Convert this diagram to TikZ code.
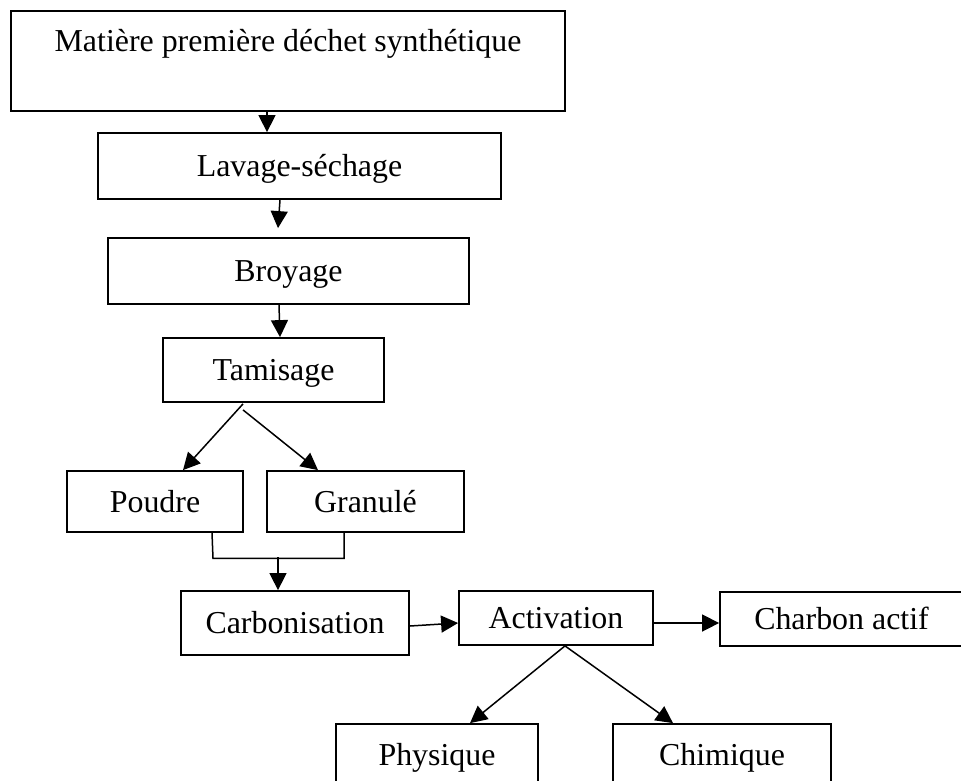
\documentclass[tikz,border=0pt]{standalone}
\usepackage{fontspec}
\setmainfont{Liberation Serif}
\usetikzlibrary{arrows.meta,calc}
\begin{document}
\begin{tikzpicture}[x=1pt,y=-1pt,
  box/.style={draw, line width=1.8pt, inner sep=0pt, text height=21pt, text depth=0pt,
    font=\fontsize{31.9}{38}\selectfont},
  arr/.style={line width=1.5pt, -{Triangle[length=17pt,width=17pt]}},
  ln/.style={line width=1.5pt}]
\fill[white] (0,0) rectangle (961,780);
\useasboundingbox (0,0) rectangle (961,780);
% nodes
\node[box, anchor=north, minimum width=554pt, text height=41pt, text depth=59pt] (m) at (288,10) {Matière première déchet synthétique};
\node[box, minimum width=403pt, minimum height=66pt] (lav) at (299.5,166) {Lavage-séchage};
\node[box, minimum width=361pt, minimum height=66pt] (broy) at (288.5,271) {Broyage};
\node[box, minimum width=221pt, minimum height=64pt] (tam) at (273.5,370) {Tamisage};
\node[box, minimum width=176pt, minimum height=61pt] (poud) at (155,501.5) {Poudre};
\node[box, minimum width=197pt, minimum height=61pt] (gran) at (365.5,501.5) {Granulé};
\node[box, minimum width=228pt, minimum height=64pt] (carb) at (295,623) {Carbonisation};
\node[box, minimum width=194pt, minimum height=54pt] (act) at (556,618) {Activation};
\node[box, minimum width=243pt, minimum height=54pt] (charb) at (841.5,619) {Charbon actif};
\node[box, minimum width=202pt, minimum height=62pt] (phys) at (437,755) {Physique};
\node[box, minimum width=218pt, minimum height=62pt] (chim) at (722,755) {Chimique};
\coordinate (j) at (278,557);
% connectors
\draw[arr] ($(m.south)+(-21,0)$) -- ($(lav.north)+(-32.5,0)$);
\draw[arr] ($(lav.south)+(-19.5,0)$) -- ($(broy.north)+(-10.5,-9)$);
\draw[arr] ($(broy.south)+(-9.5,0)$) -- ($(tam.north)+(6.5,0)$);
\draw[arr] ($(tam.south)+(-30.5,1)$) -- ($(poud.north)+(28,0)$);
\draw[arr] ($(tam.south)+(-30.5,7)$) -- ($(gran.north)+(-47.5,0)$);
\draw[ln] ($(poud.south)+(57,0)$) -- ($(poud.south)+(58,25.5)$) -- ($(gran.south)+(-21.5,25.5)$) -- ($(gran.south)+(-21.5,0)$);
\draw[arr] (j) -- ($(carb.north)+(-17,0)$);
\draw[arr] ($(carb.east)+(0,3)$) -- ($(act.west)+(0,5)$);
\draw[arr] ($(act.east)+(0,5)$) -- ($(charb.west)+(0,4)$);
\draw[arr] ($(act.south)+(9,0)$) -- ($(phys.north)+(33,0)$);
\draw[arr] ($(act.south)+(9,0)$) -- ($(chim.north)+(-49,0)$);
\end{tikzpicture}
\end{document}
